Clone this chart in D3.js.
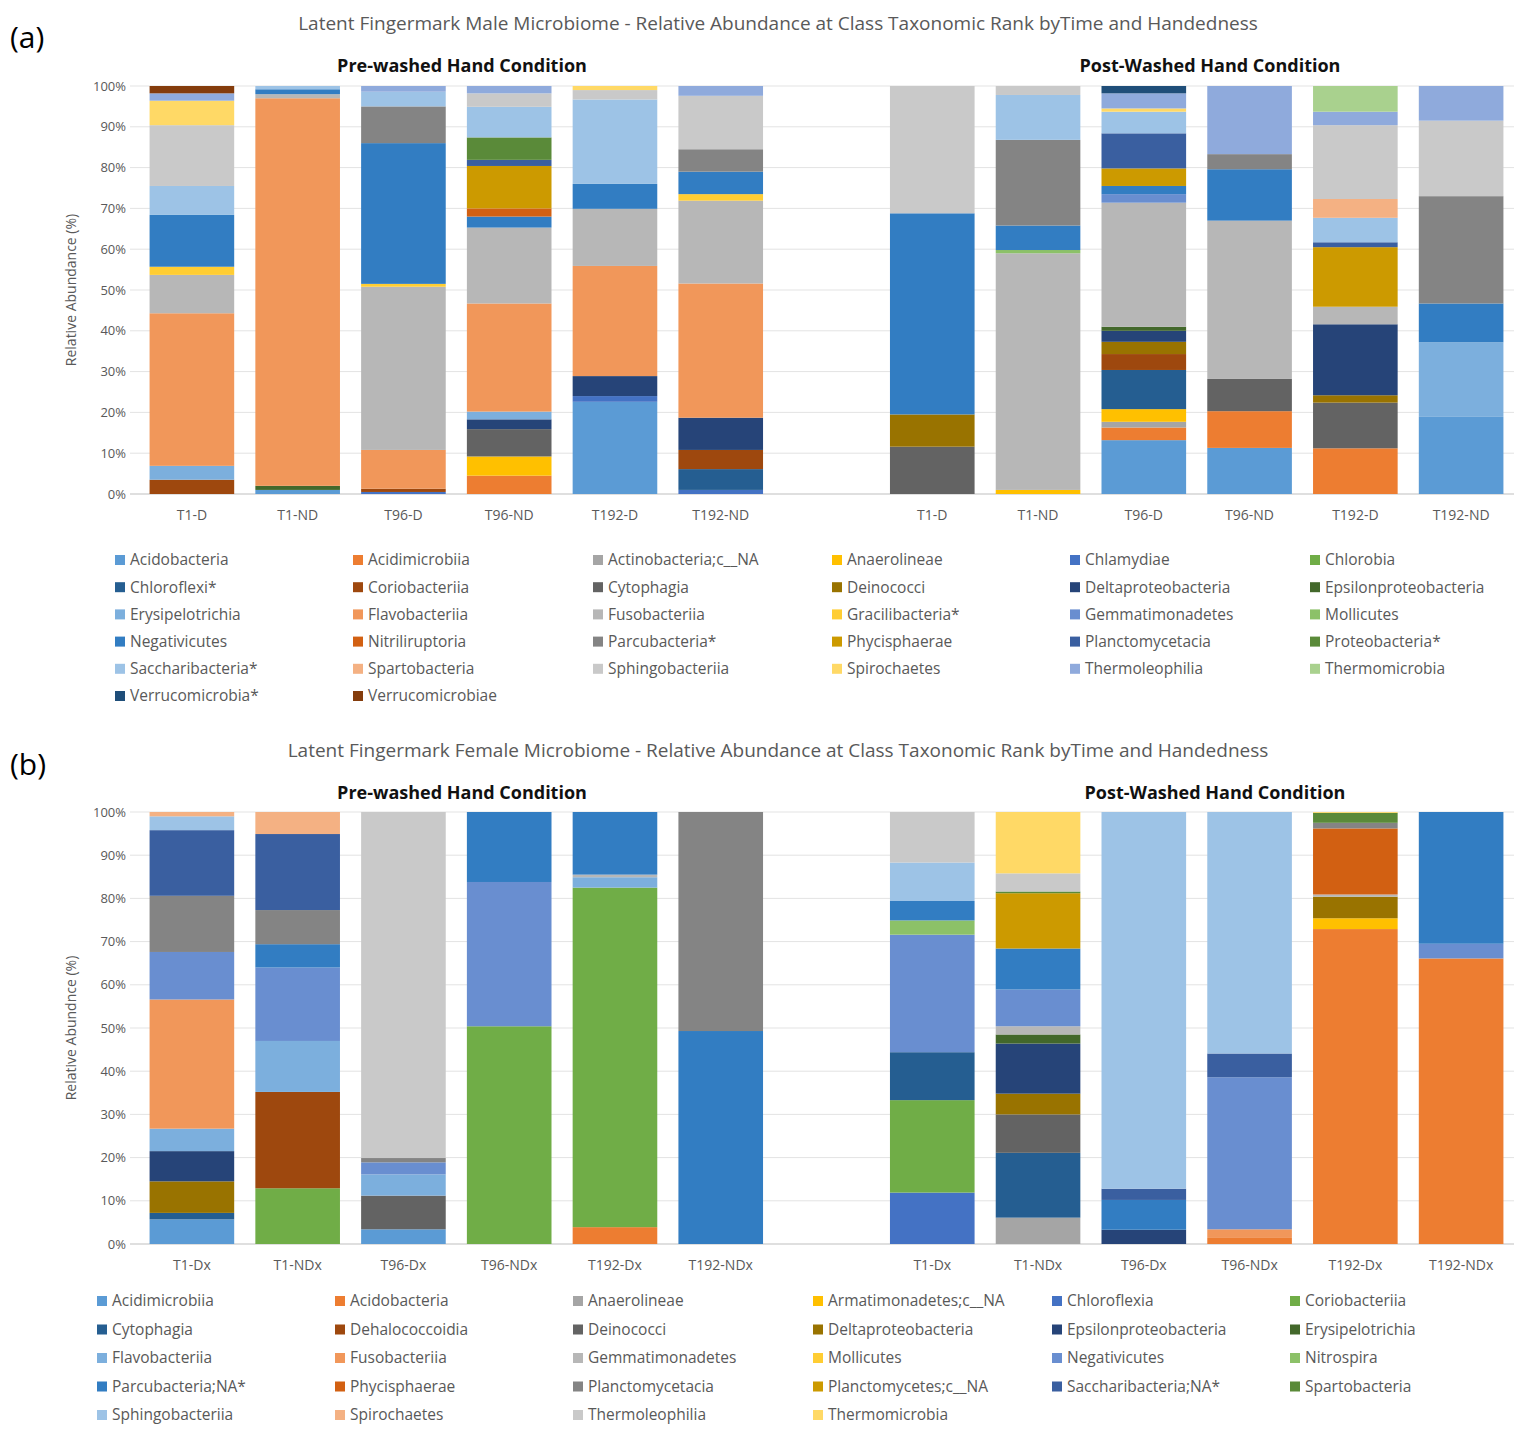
<!DOCTYPE html>
<html>
<head>
<meta charset="utf-8">
<script src="https://cdn.jsdelivr.net/npm/d3@7"></script>
<style>
body { margin: 0; background: #fff; }
text { font-family: "Open Sans", sans-serif; }
</style>
</head>
<body>
<svg id="chart" width="1523" height="1436"></svg>
<script>
// Excel default palette, in series order
var palette = ["#5B9BD5","#ED7D31","#A5A5A5","#FFC000","#4472C4","#70AD47",
  "#255E91","#9E480E","#636363","#997300","#264478","#43682B",
  "#7CAFDD","#F1975A","#B7B7B7","#FFCD33","#698ED0","#8CC168",
  "#327DC2","#D26012","#848484","#CC9A00","#3A5FA0","#5A8A39",
  "#9DC3E6","#F4B183","#C9C9C9","#FFD966","#8FAADC","#A9D18E",
  "#1F4E79","#843C0C"];

var yTicks = [0, 10, 20, 30, 40, 50, 60, 70, 80, 90, 100];

// ---- (a) male ----
var maleSeries = ["Acidobacteria","Acidimicrobiia","Actinobacteria;c__NA","Anaerolineae","Chlamydiae","Chlorobia",
  "Chloroflexi*","Coriobacteriia","Cytophagia","Deinococci","Deltaproteobacteria","Epsilonproteobacteria",
  "Erysipelotrichia","Flavobacteriia","Fusobacteriia","Gracilibacteria*","Gemmatimonadetes","Mollicutes",
  "Negativicutes","Nitriliruptoria","Parcubacteria*","Phycisphaerae","Planctomycetacia","Proteobacteria*",
  "Saccharibacteria*","Spartobacteria","Sphingobacteriia","Spirochaetes","Thermoleophilia","Thermomicrobia",
  "Verrucomicrobia*","Verrucomicrobiae"];
var maleCats = ["T1-D","T1-ND","T96-D","T96-ND","T192-D","T192-ND","",
  "T1-D ","T1-ND ","T96-D ","T96-ND ","T192-D ","T192-ND "];

var mPreT1D = [["Coriobacteriia",3.5],["Erysipelotrichia",3.4],["Flavobacteriia",37.4],["Fusobacteriia",9.4],
  ["Gracilibacteria*",2],["Negativicutes",12.7],["Saccharibacteria*",7.1],["Sphingobacteriia",14.9],
  ["Spirochaetes",6],["Thermoleophilia",1.8],["Verrucomicrobiae",1.8]];
var mPreT1ND = [["Acidobacteria",1],["Epsilonproteobacteria",1],["Flavobacteriia",95],["Fusobacteriia",1],
  ["Negativicutes",1.2],["Saccharibacteria*",0.8]];
var mPreT96D = [["Chlamydiae",0.5],["Coriobacteriia",0.8],["Flavobacteriia",9.5],["Fusobacteriia",40],
  ["Gracilibacteria*",0.7],["Negativicutes",34.5],["Parcubacteria*",9],["Saccharibacteria*",3.6],["Thermoleophilia",1.4]];
var mPreT96ND = [["Acidimicrobiia",4.5],["Anaerolineae",4.7],["Cytophagia",6.7],["Deltaproteobacteria",2.4],
  ["Erysipelotrichia",1.9],["Flavobacteriia",26.5],["Fusobacteriia",18.6],["Negativicutes",2.7],["Nitriliruptoria",2],
  ["Phycisphaerae",10.4],["Planctomycetacia",1.5],["Proteobacteria*",5.5],["Saccharibacteria*",7.5],
  ["Sphingobacteriia",3.3],["Thermoleophilia",1.8]];
var mPreT192D = [["Acidobacteria",22.6],["Chlamydiae",1.4],["Deltaproteobacteria",4.9],["Flavobacteriia",27],
  ["Fusobacteriia",14],["Negativicutes",6.1],["Saccharibacteria*",20.7],["Sphingobacteriia",2.3],["Spirochaetes",1]];
var mPreT192ND = [["Chlamydiae",1],["Chloroflexi*",5.1],["Coriobacteriia",4.7],["Deltaproteobacteria",7.9],
  ["Flavobacteriia",32.9],["Fusobacteriia",20.3],["Gracilibacteria*",1.6],["Negativicutes",5.5],["Parcubacteria*",5.5],
  ["Sphingobacteriia",13.1],["Thermoleophilia",2.4]];
var mPostT1D = [["Cytophagia",11.6],["Deinococci",7.9],["Negativicutes",49.3],["Sphingobacteriia",31.2]];
var mPostT1ND = [["Anaerolineae",1],["Mollicutes",0.8],["Fusobacteriia",58],["Negativicutes",6],
  ["Parcubacteria*",21],["Saccharibacteria*",11],["Sphingobacteriia",2.2]];
var mPostT96D = [["Acidobacteria",13.2],["Acidimicrobiia",3.1],["Actinobacteria;c__NA",1.4],["Anaerolineae",3.1],
  ["Chloroflexi*",9.6],["Coriobacteriia",3.9],["Deinococci",3],["Deltaproteobacteria",2.7],["Epsilonproteobacteria",1],
  ["Fusobacteriia",30.4],["Gemmatimonadetes",2.1],["Negativicutes",2],["Phycisphaerae",4.3],["Planctomycetacia",8.6],
  ["Saccharibacteria*",5.3],["Spirochaetes",0.8],["Thermoleophilia",3.7],["Verrucomicrobia*",1.8]];
var mPostT96ND = [["Acidobacteria",11.3],["Acidimicrobiia",9],["Cytophagia",7.9],["Fusobacteriia",38.8],
  ["Negativicutes",12.6],["Parcubacteria*",3.7],["Thermoleophilia",16.7]];
var mPostT192D = [["Acidimicrobiia",11.2],["Cytophagia",11.2],["Deinococci",1.8],["Deltaproteobacteria",17.4],
  ["Fusobacteriia",4.3],["Phycisphaerae",14.6],["Planctomycetacia",1.2],["Saccharibacteria*",6],["Spartobacteria",4.6],
  ["Sphingobacteriia",18.1],["Thermoleophilia",3.3],["Thermomicrobia",6.3]];
var mPostT192ND = [["Acidobacteria",18.9],["Erysipelotrichia",18.3],["Negativicutes",9.5],["Parcubacteria*",26.3],
  ["Sphingobacteriia",18.5],["Thermoleophilia",8.5]];
var maleBars = [mPreT1D, mPreT1ND, mPreT96D, mPreT96ND, mPreT192D, mPreT192ND, [],
  mPostT1D, mPostT1ND, mPostT96D, mPostT96ND, mPostT192D, mPostT192ND];

// ---- (b) female ----
var femaleSeries = ["Acidimicrobiia","Acidobacteria","Anaerolineae","Armatimonadetes;c__NA","Chloroflexia","Coriobacteriia",
  "Cytophagia","Dehalococcoidia","Deinococci","Deltaproteobacteria","Epsilonproteobacteria","Erysipelotrichia",
  "Flavobacteriia","Fusobacteriia","Gemmatimonadetes","Mollicutes","Negativicutes","Nitrospira",
  "Parcubacteria;NA*","Phycisphaerae","Planctomycetacia","Planctomycetes;c__NA","Saccharibacteria;NA*","Spartobacteria",
  "Sphingobacteriia","Spirochaetes","Thermoleophilia","Thermomicrobia"];
var femaleCats = ["T1-Dx","T1-NDx","T96-Dx","T96-NDx","T192-Dx","T192-NDx","",
  "T1-Dx ","T1-NDx ","T96-Dx ","T96-NDx ","T192-Dx ","T192-NDx "];

var fPreT1D = [["Acidimicrobiia",5.7],["Cytophagia",1.5],["Deltaproteobacteria",7.3],["Epsilonproteobacteria",7],
  ["Flavobacteriia",5.2],["Fusobacteriia",29.9],["Negativicutes",11],["Planctomycetacia",13],
  ["Saccharibacteria;NA*",15.2],["Sphingobacteriia",3.2],["Spirochaetes",1]];
var fPreT1ND = [["Coriobacteriia",12.9],["Dehalococcoidia",22.3],["Flavobacteriia",11.8],["Negativicutes",17],
  ["Parcubacteria;NA*",5.4],["Planctomycetacia",7.9],["Saccharibacteria;NA*",17.6],["Spirochaetes",5.1]];
var fPreT96D = [["Acidimicrobiia",3.4],["Deinococci",7.8],["Flavobacteriia",4.9],["Negativicutes",2.8],
  ["Planctomycetacia",1],["Thermoleophilia",80.1]];
var fPreT96ND = [["Coriobacteriia",50.4],["Negativicutes",33.4],["Parcubacteria;NA*",16.2]];
var fPreT192D = [["Acidobacteria",3.9],["Coriobacteriia",78.6],["Flavobacteriia",2.4],["Gemmatimonadetes",0.6],
  ["Parcubacteria;NA*",14.5]];
var fPreT192ND = [["Parcubacteria;NA*",49.3],["Planctomycetacia",50.7]];
var fPostT1D = [["Chloroflexia",11.9],["Coriobacteriia",21.4],["Cytophagia",11.1],["Negativicutes",27.2],
  ["Nitrospira",3.3],["Parcubacteria;NA*",4.5],["Sphingobacteriia",8.9],["Thermoleophilia",11.7]];
var fPostT1ND = [["Anaerolineae",6.1],["Cytophagia",15],["Deinococci",8.9],["Deltaproteobacteria",4.8],
  ["Epsilonproteobacteria",11.6],["Erysipelotrichia",2.1],["Gemmatimonadetes",1.9],["Negativicutes",8.5],
  ["Parcubacteria;NA*",9.5],["Planctomycetes;c__NA",12.8],["Spartobacteria",0.4],["Thermoleophilia",4.2],
  ["Thermomicrobia",14.2]];
var fPostT96D = [["Epsilonproteobacteria",3.3],["Parcubacteria;NA*",6.9],["Saccharibacteria;NA*",2.6],
  ["Sphingobacteriia",87.2]];
var fPostT96ND = [["Acidobacteria",1.4],["Fusobacteriia",2],["Negativicutes",35.2],["Saccharibacteria;NA*",5.5],
  ["Sphingobacteriia",55.9]];
var fPostT192D = [["Acidobacteria",72.9],["Armatimonadetes;c__NA",2.5],["Deltaproteobacteria",5],
  ["Gemmatimonadetes",0.5],["Phycisphaerae",15.3],["Planctomycetacia",1.3],["Spartobacteria",2.3],["Thermomicrobia",0.2]];
var fPostT192ND = [["Acidobacteria",66.1],["Negativicutes",3.4],["Parcubacteria;NA*",30.5]];
var femaleBars = [fPreT1D, fPreT1ND, fPreT96D, fPreT96ND, fPreT192D, fPreT192ND, [],
  fPostT1D, fPostT1ND, fPostT96D, fPostT96ND, fPostT192D, fPostT192ND];

var svg = d3.select("#chart");

function drawPanel(o) {
  var g = svg.append("g");
  var x = d3.scaleBand().domain(o.cats).range([139, 1514]).paddingInner(0.2).paddingOuter(0.1);
  var y = d3.scaleLinear().domain([0, 100]).range([o.y0, o.y1]);
  var color = d3.scaleOrdinal().domain(o.series).range(palette);

  var rows = o.bars.map(function (b, i) {
    var r = { cat: o.cats[i] };
    o.series.forEach(function (s) { r[s] = 0; });
    b.forEach(function (p) { r[p[0]] += p[1]; });
    return r;
  });
  var stacked = d3.stack().keys(o.series)(rows);

  // gridlines
  g.selectAll(".grid").data(yTicks).enter().append("line")
    .attr("x1", 130).attr("x2", 1514)
    .attr("y1", function (d) { return y(d); }).attr("y2", function (d) { return y(d); })
    .attr("stroke", function (d) { return d === 0 ? "#bfbfbf" : "#e3e3e3"; }).attr("stroke-width", 1);

  g.selectAll(".layer").data(stacked).enter().append("g")
    .attr("fill", function (d) { return color(d.key); })
    .selectAll("rect").data(function (d) { return d; }).enter().append("rect")
    .filter(function (d) { return d[1] - d[0] > 0; })
    .attr("x", function (d) { return x(d.data.cat); })
    .attr("width", x.bandwidth())
    .attr("y", function (d) { return y(d[1]); })
    .attr("height", function (d) { return y(d[0]) - y(d[1]); });

  var ax = g.append("g").attr("transform", "translate(128,0)")
    .call(d3.axisLeft(y).tickValues(yTicks).tickSize(0).tickPadding(2).tickFormat(function (d) { return d + "%"; }));
  ax.select(".domain").remove();
  ax.selectAll("text").attr("fill", "#595959").style("font-size", "13px");

  var xa = g.append("g").attr("transform", "translate(0," + o.y0 + ")")
    .call(d3.axisBottom(x).tickSize(0).tickPadding(16));
  xa.select(".domain").remove();
  xa.selectAll("text").attr("fill", "#595959").style("font-size", "14px");

  g.append("text").attr("transform", "translate(76," + ((o.y0 + o.y1) / 2) + ") rotate(-90)")
    .attr("text-anchor", "middle").attr("fill", "#595959").style("font-size", "14px").text(o.yTitle);

  g.append("text").attr("x", 778).attr("y", o.titleY).attr("text-anchor", "middle")
    .attr("fill", "#595959").style("font-size", "19px").text(o.title);
  g.append("text").attr("x", 10).attr("y", o.titleY + 18).attr("fill", "#000").style("font-size", "30px").text(o.tag);
  g.append("text").attr("x", 462).attr("y", o.titleY + 42).attr("text-anchor", "middle")
    .style("font-weight", "bold").style("font-size", "18px").attr("fill", "#111").text("Pre-washed Hand Condition");
  g.append("text").attr("x", o.postX).attr("y", o.titleY + 42).attr("text-anchor", "middle")
    .style("font-weight", "bold").style("font-size", "18px").attr("fill", "#111").text("Post-Washed Hand Condition");

  var lg = g.selectAll(".leg").data(o.series).enter().append("g")
    .attr("transform", function (d, i) {
      return "translate(" + o.legX[i % 6] + "," + (o.legY + Math.floor(i / 6) * o.legDy) + ")";
    });
  lg.append("rect").attr("x", 0).attr("y", -5).attr("width", 10).attr("height", 10)
    .attr("fill", function (d) { return color(d); });
  lg.append("text").attr("x", 15).attr("y", 0).attr("dy", "0.35em")
    .attr("fill", "#595959").style("font-size", "15.5px").text(function (d) { return d; });
}

drawPanel({
  series: maleSeries, cats: maleCats, bars: maleBars, y0: 494, y1: 86,
  title: "Latent Fingermark Male Microbiome - Relative Abundance at Class Taxonomic Rank byTime and Handedness",
  titleY: 30, tag: "(a)", postX: 1210, yTitle: "Relative Abundance (%)",
  legX: [115, 353, 593, 832, 1070, 1310], legY: 560, legDy: 27.2
});
drawPanel({
  series: femaleSeries, cats: femaleCats, bars: femaleBars, y0: 1244, y1: 812,
  title: "Latent Fingermark Female Microbiome - Relative Abundance at Class Taxonomic Rank byTime and Handedness",
  titleY: 757, tag: "(b)", postX: 1215, yTitle: "Relative Abundnce (%)",
  legX: [97, 335, 573, 813, 1052, 1290], legY: 1301, legDy: 28.5
});
</script>
</body>
</html>
